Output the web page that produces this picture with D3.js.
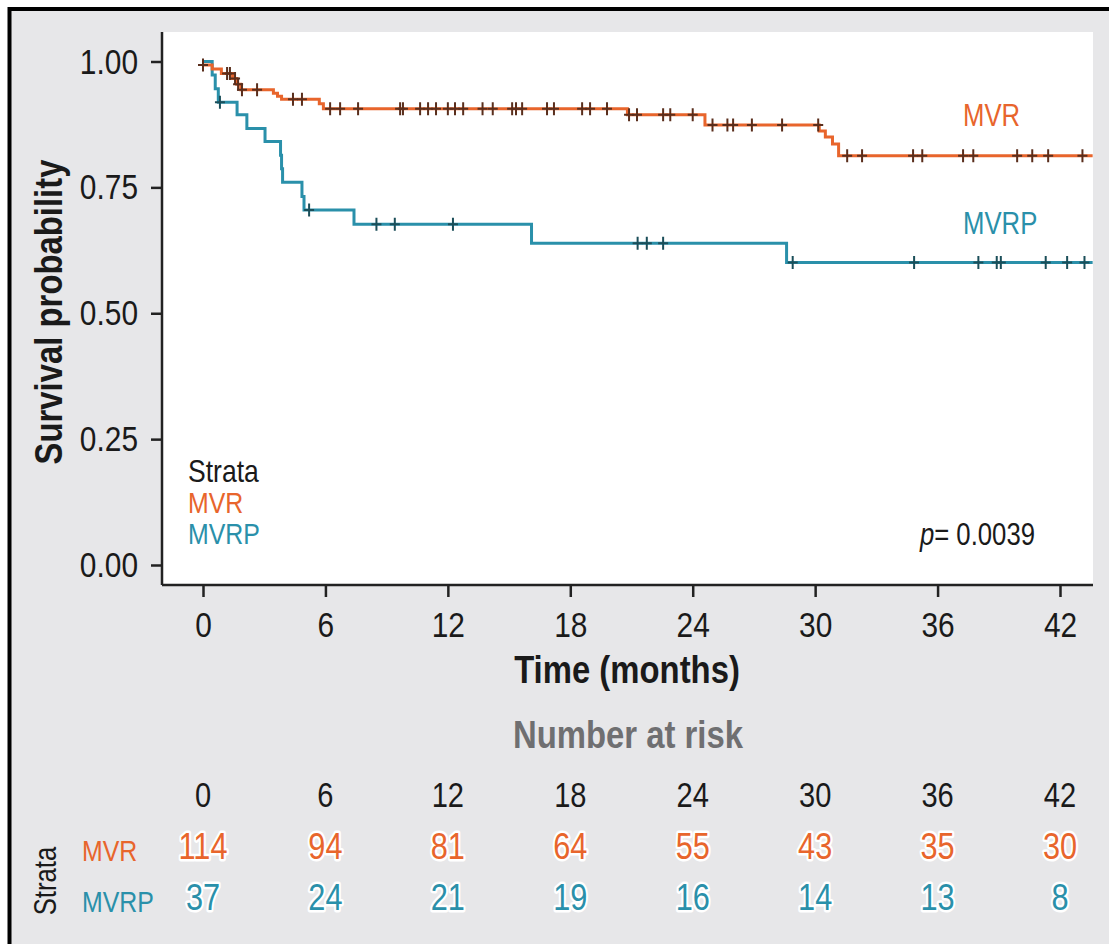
<!DOCTYPE html>
<html>
<head>
<meta charset="utf-8">
<script src="https://cdn.jsdelivr.net/npm/d3@7"></script>
<style>
  html, body { margin: 0; padding: 0; background: #ffffff; }
  svg { display: block; }
  text { font-family: 'Liberation Sans', Arial, Helvetica, sans-serif; }
</style>
</head>
<body>
<div id="chart"></div>
<script>
// ---------------- DATA ----------------
const strata = ["MVR", "MVRP"];
const xTicks = [0, 6, 12, 18, 24, 30, 36, 42];
const yTicks = [0, 0.25, 0.5, 0.75, 1.0];

// MVR step function: event times and survival after each event
const mvrTimes = [0, 0.45, 0.9, 1.45, 1.65, 1.85, 3.45, 3.65, 3.85, 5.7, 5.9, 20.8, 24.6, 30.2, 30.5, 30.85, 31.15];
const mvrSurv  = [0.993, 0.985, 0.976, 0.966, 0.955, 0.944, 0.937, 0.931, 0.925, 0.916, 0.906, 0.894, 0.874, 0.862, 0.850, 0.836, 0.813];
const mvrCensor = [0.0, 1.18, 1.32, 1.57, 1.72, 1.91, 2.65, 4.41, 4.85, 6.23, 6.72, 7.6, 9.66, 9.8, 10.64, 11.03, 11.42,
  12.0, 12.35, 12.75, 13.7, 14.2, 15.15, 15.34, 15.64, 16.86, 17.2, 18.58, 18.97, 19.8, 20.88, 21.27, 22.55, 22.9,
  24.0, 24.97, 25.7, 25.98, 26.9, 28.38, 30.15, 31.57, 32.3, 34.8, 35.25, 37.25, 37.75, 39.9, 40.64, 41.42, 43.1];

// MVRP step function
const mvrpTimes = [0, 0.45, 0.6, 0.75, 1.67, 2.15, 3.04, 3.8, 3.85, 3.9, 4.85, 4.95, 7.4, 16.1, 28.6];
const mvrpSurv  = [1.0, 0.973, 0.946, 0.919, 0.894, 0.867, 0.841, 0.814, 0.787, 0.760, 0.732, 0.705, 0.677, 0.639, 0.601];
const mvrpCensor = [0.83, 5.2, 8.5, 9.4, 12.25, 21.3, 21.75, 22.55, 28.9, 34.85, 38.0, 38.9, 39.1, 41.3, 42.35, 43.2];

const endTime = 43.6;
const pValue = "0.0039";

// Number at risk
const riskTimes = [0, 6, 12, 18, 24, 30, 36, 42];
const mvrRisk  = [114, 94, 81, 64, 55, 43, 35, 30];
const mvrpRisk = [37, 24, 21, 19, 16, 14, 13, 8];

// ---------------- STYLE ----------------
const W = 1109, H = 944;
const colors = { MVR: "#E8652C", MVRP: "#2A90AA" };
const censorColors = { MVR: "#5a2e1c", MVRP: "#1b4e59" };
const bg = "#e7e7e9";
const INK = "#1a1a1a";
const SX = 0.83;   // condensed look for regular text
const SXB = 0.865; // condensed look for bold titles

const svg = d3.select("#chart").append("svg").attr("width", W).attr("height", H);

// condensed text helper
function label(parent, x, y, str, o = {}) {
  const g = parent.append("g").attr("transform", `translate(${x},${y})${o.rotate ? ` rotate(${o.rotate})` : ""} scale(${o.sx || SX},1)`);
  const t = g.append("text").attr("x", 0).attr("y", 0)
    .attr("text-anchor", o.anchor || "start")
    .attr("font-size", o.size || 31)
    .attr("font-weight", o.weight || "normal")
    .attr("fill", o.fill || INK);
  if (o.halo) {
    t.attr("stroke", "#ffffff").attr("stroke-width", 5).attr("stroke-linejoin", "round").attr("paint-order", "stroke");
  }
  if (str !== null) t.text(str);
  return t;
}

// outer background + frame
svg.append("rect").attr("x", 0).attr("y", 0).attr("width", W).attr("height", H).attr("fill", "#ffffff");
svg.append("rect").attr("x", 9.5).attr("y", 9).attr("width", W + 10).attr("height", H + 10)
  .attr("fill", bg).attr("stroke", "#000").attr("stroke-width", 4);

const panel = { left: 162, right: 1093, top: 32, bottom: 585 };
const x = d3.scaleLinear().domain([0, 42]).range([203, 1060]);
const y = d3.scaleLinear().domain([0, 1]).range([565, 61.5]);

svg.append("rect").attr("x", panel.left).attr("y", panel.top)
  .attr("width", panel.right - panel.left).attr("height", panel.bottom - panel.top).attr("fill", "#ffffff");

// curves
function stepData(times, surv) {
  const d = times.map((t, i) => [t, surv[i]]);
  d.push([endTime, surv[surv.length - 1]]);
  return d;
}
function survAt(times, surv, t) {
  let v = surv[0];
  for (let i = 0; i < times.length; i++) if (times[i] <= t) v = surv[i];
  return v;
}
const line = d3.line().x(d => x(d[0])).y(d => y(d[1])).curve(d3.curveStepAfter);

const series = [
  { name: "MVRP", times: mvrpTimes, surv: mvrpSurv, censor: mvrpCensor },
  { name: "MVR", times: mvrTimes, surv: mvrSurv, censor: mvrCensor }
];

series.forEach(s => {
  svg.append("path").datum(stepData(s.times, s.surv))
    .attr("d", line).attr("fill", "none").attr("stroke", colors[s.name])
    .attr("stroke-width", 3).attr("stroke-linejoin", "miter");
});
series.forEach(s => {
  const g = svg.append("g");
  s.censor.forEach(t => {
    const cx = x(t), cy = y(survAt(s.times, s.surv, t));
    g.append("path").attr("d", `M${cx - 5},${cy}H${cx + 5}M${cx},${cy - 6.5}V${cy + 6.5}`)
      .attr("stroke", censorColors[s.name]).attr("stroke-width", 2).attr("fill", "none");
  });
});

// axes
const yAxis = d3.axisLeft(y).tickValues(yTicks).tickFormat(d3.format(".2f")).tickSize(11).tickPadding(13);
const gy = svg.append("g").attr("transform", `translate(${panel.left},0)`).call(yAxis);
gy.select(".domain").attr("d", `M0,${panel.top}V${panel.bottom}`).attr("stroke", "#222").attr("stroke-width", 2.5);
gy.selectAll(".tick line").attr("stroke", "#222").attr("stroke-width", 2.5);
gy.selectAll(".tick text").attr("font-size", 36).attr("fill", INK)
  .attr("font-family", "'Liberation Sans', Arial, sans-serif")
  .attr("x", -24 / SX).attr("transform", `scale(${SX},1)`);

const xAxis = d3.axisBottom(x).tickValues(xTicks).tickFormat(d3.format("d")).tickSize(12).tickPadding(14);
const gx = svg.append("g").attr("transform", `translate(0,${panel.bottom})`).call(xAxis);
gx.select(".domain").attr("d", `M${panel.left},0H${panel.right}`).attr("stroke", "#222").attr("stroke-width", 2.5);
gx.selectAll(".tick line").attr("stroke", "#222").attr("stroke-width", 2.5);
gx.selectAll(".tick text").attr("font-size", 36).attr("fill", INK)
  .attr("font-family", "'Liberation Sans', Arial, sans-serif")
  .attr("transform", `scale(${SX},1)`);

// axis titles
label(svg, 627, 683, "Time (months)", { size: 38, weight: "bold", anchor: "middle", sx: SXB });
label(svg, 62, 312, "Survival probability", { size: 38, weight: "bold", anchor: "middle", sx: SXB, rotate: -90 });

// legend inside panel
label(svg, 188, 482, "Strata", { size: 32 });
strata.forEach((s, i) => label(svg, 188, 513 + i * 31, s, { size: 30, fill: colors[s] }));

// curve labels
label(svg, 963, 126, "MVR", { size: 31, fill: colors.MVR });
label(svg, 963, 234, "MVRP", { size: 31, fill: colors.MVRP });

// p-value
const pt = label(svg, 1035, 545, null, { size: 31, anchor: "end" });
pt.append("tspan").attr("font-style", "italic").text("p");
pt.append("tspan").text("= " + pValue);

// number at risk
label(svg, 628, 748, "Number at risk", { size: 38, weight: "bold", anchor: "middle", sx: SXB, fill: "#6f6f71" });

riskTimes.forEach(t => label(svg, x(t), 807, String(t), { size: 35, anchor: "middle" }));
const rows = [{ name: "MVR", vals: mvrRisk, yb: 859 }, { name: "MVRP", vals: mvrpRisk, yb: 910 }];
rows.forEach(r => {
  label(svg, 82, r.yb + 2, r.name, { size: 30, fill: colors[r.name] });
  r.vals.forEach((v, i) => label(svg, x(riskTimes[i]), r.yb, String(v), { size: 37, anchor: "middle", fill: colors[r.name], halo: true }));
});
label(svg, 56, 881, "Strata", { size: 31, anchor: "middle", rotate: -90 });
</script>
</body>
</html>
